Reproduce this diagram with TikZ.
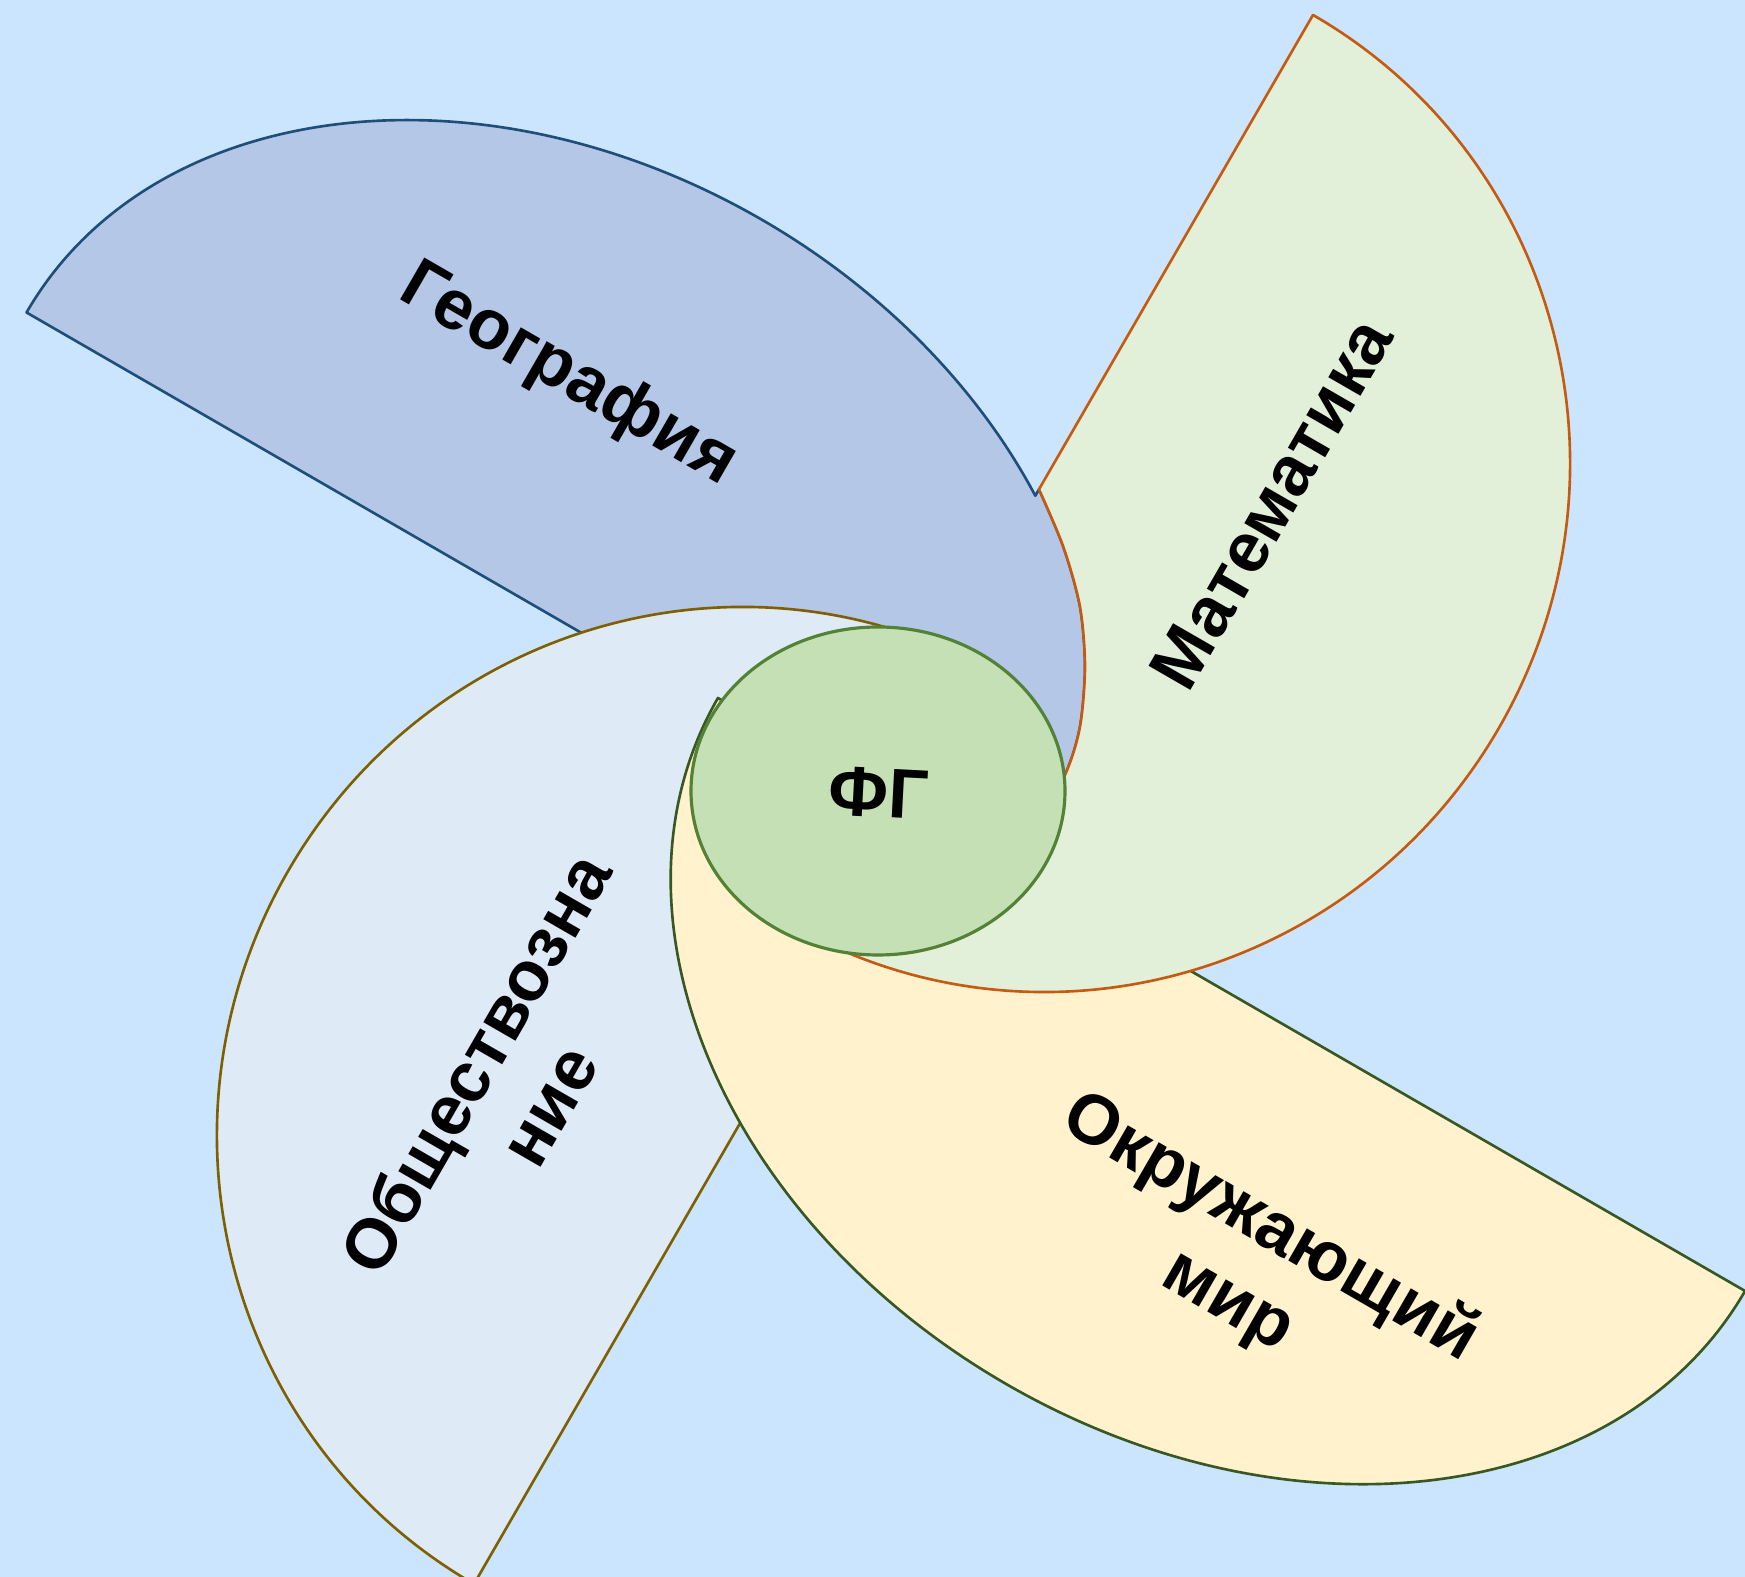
\documentclass[tikz,border=0pt]{standalone}
\usepackage{fontspec}
\setmainfont{Liberation Sans}
\usetikzlibrary{shapes.geometric}

\definecolor{bgblue}{HTML}{CCE5FF}
\definecolor{geofill}{HTML}{B4C7E7}
\definecolor{geoline}{HTML}{1F4E79}
\definecolor{matfill}{HTML}{E2F0D9}
\definecolor{matline}{HTML}{C55A11}
\definecolor{okrfill}{HTML}{FFF2CC}
\definecolor{okrline}{HTML}{385723}
\definecolor{obshfill}{HTML}{DEEBF7}
\definecolor{obshline}{HTML}{7F6000}
\definecolor{hubfill}{HTML}{C5E0B4}
\definecolor{hubline}{HTML}{538135}

\begin{document}
\begin{tikzpicture}
  [x=1cm,y=1cm,
   petal/.style={line width=0.75pt,line join=round},
   geo/.style={petal,fill=geofill,draw=geoline},
   mat/.style={petal,fill=matfill,draw=matline},
   okr/.style={petal,fill=okrfill,draw=okrline},
   obsh/.style={petal,fill=obshfill,draw=obshline},
   hub/.style={ellipse,draw=hubline,fill=hubfill,line width=0.9pt,
     minimum width=3.74cm,minimum height=3.28cm,inner sep=0pt},
   lbl/.style={font=\fontsize{20}{24}\selectfont\bfseries,align=center,inner sep=0pt}]

  \useasboundingbox (0,0) rectangle (17.45,-15.77);
  \fill[bgblue] (0,0) rectangle (17.45,-15.77);

  % edge shared by geography and maths
  \coordinate (j) at (10.39,-4.893);
  \coordinate (c1) at (10.633,-5.467);
  \coordinate (c2) at (10.80,-6.067);
  \coordinate (c3) at (10.85,-6.667);
  \coordinate (c4) at (10.80,-7.267);
  \coordinate (c5) at (10.65,-7.75);
  \coordinate (e) at (10.30,-8.40);
  \coordinate (q) at (8.925,-8.125);

  % geography
  \begin{scope}[shift={(5.375,-6.075)},rotate=-30]
    \path[geo] (-5.9,0) arc[start angle=180,end angle=50.5,x radius=5.9,y radius=4.48]
      -- plot[smooth] coordinates {(j) (c1) (c2) (c3) (c4) (c5) (e)} -- (q) -- cycle;
  \end{scope}

  % social studies
  \begin{scope}[shift={(7.3625,-11.298)},rotate=60]
    \path[obsh] (-5.245,0) arc[start angle=180,end angle=0,x radius=5.245,y radius=5.175] -- cycle;
  \end{scope}

  % world around us
  \begin{scope}[shift={(12.315,-9.945)},rotate=150]
    \path[okr] (-5.93,0) arc[start angle=180,end angle=0,x radius=5.93,y radius=4.5] -- cycle;
  \end{scope}

  % maths
  \begin{scope}[shift={(10.5075,-4.692)},rotate=-120]
    \path[mat] (-5.245,0) -- plot[smooth] coordinates {(j) (c1) (c2) (c3) (c4) (c5) (e)}
      -- (5.245,0) arc[start angle=0,end angle=180,x radius=5.245,y radius=5.175] -- cycle;
  \end{scope}

  \node[hub] (hub) at (8.78,-7.91) {};

  \node[lbl,rotate=-30] (geog) at (5.68,-3.76) {География};
  \node[lbl,rotate=60] (math) at (12.715,-5.035) {Математика};
  \node[lbl,rotate=60] (soc) at (5.11,-10.84) {Обществозна\\ние};
  \node[lbl,rotate=-30] (world) at (12.49,-12.65) {Окружающий\\мир};
  \node[lbl,rotate=-3] (fg) at (8.79,-7.925) {ФГ};
\end{tikzpicture}
\end{document}
